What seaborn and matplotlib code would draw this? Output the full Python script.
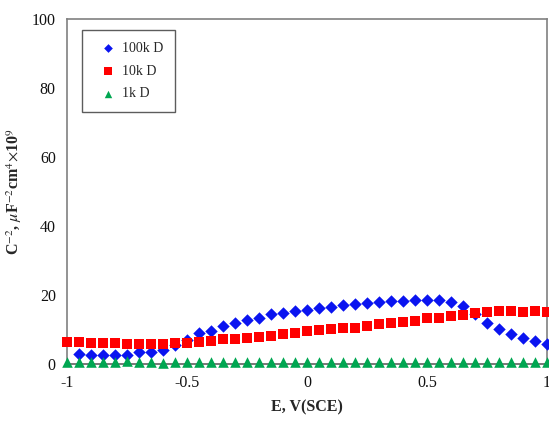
import numpy as np
import pandas as pd
import matplotlib
matplotlib.use("Agg")
import matplotlib.pyplot as plt
import seaborn as sns

# potentials E, V(SCE)
e_all = [-1.0, -0.95, -0.9, -0.85, -0.8, -0.75, -0.7, -0.65, -0.6, -0.55,
         -0.5, -0.45, -0.4, -0.35, -0.3, -0.25, -0.2, -0.15, -0.1, -0.05,
         0.0, 0.05, 0.1, 0.15, 0.2, 0.25, 0.3, 0.35, 0.4, 0.45,
         0.5, 0.55, 0.6, 0.65, 0.7, 0.75, 0.8, 0.85, 0.9, 0.95, 1.0]

# 100kD starts one step later
c_100k = [2.9, 2.6, 2.6, 2.6, 2.6, 3.6, 3.6, 4.1, 5.5,
          7.0, 8.9, 9.7, 11.0, 12.0, 12.8, 13.2, 14.4, 14.9, 15.4,
          15.7, 16.1, 16.6, 17.1, 17.4, 17.6, 17.9, 18.3, 18.3, 18.6,
          18.6, 18.6, 17.9, 16.8, 14.6, 12.0, 10.0, 8.7, 7.6, 6.8, 5.9]
c_10k = [6.3, 6.3, 6.2, 6.2, 6.0, 5.7, 5.8, 5.7, 5.7, 6.2,
         6.0, 6.5, 6.7, 7.2, 7.2, 7.6, 7.9, 8.2, 8.7, 8.9,
         9.6, 9.9, 10.0, 10.3, 10.5, 11.0, 11.5, 11.8, 12.3, 12.6,
         13.2, 13.2, 13.9, 14.2, 14.7, 15.0, 15.4, 15.4, 15.2, 15.5, 15.0]
c_1k = [0.7, 0.5, 0.6, 0.5, 0.6, 0.8, 0.6, 0.5, 0.4, 0.6,
        0.6, 0.5, 0.6, 0.6, 0.5, 0.6, 0.6, 0.6, 0.6, 0.5,
        0.6, 0.6, 0.5, 0.6, 0.6, 0.5, 0.6, 0.6, 0.5, 0.6,
        0.6, 0.5, 0.6, 0.6, 0.5, 0.6, 0.5, 0.5, 0.6, 0.5, 0.7]

series = [
    ("100k D", e_all[1:], c_100k, "D", 40, "#0a14f0"),
    ("10k D", e_all, c_10k, "s", 52, "#ff0000"),
    ("1k D", e_all, c_1k, "^", 58, "#00a651"),
]

sns.set_theme(style="white")
plt.rcParams["font.family"] = ["Liberation Serif", "DejaVu Serif"]
plt.rcParams["mathtext.fontset"] = "stix"

fig = plt.figure(figsize=(5.49, 4.23), dpi=100)
ax = fig.add_axes([0.122, 0.1395, 0.8745, 0.8155])

for name, x, y, mk, size, col in series:
    df = pd.DataFrame({"E": x, "C": y})
    sns.scatterplot(data=df, x="E", y="C", marker=mk, s=size, color=col,
                    linewidth=0, label=name, ax=ax, clip_on=False, zorder=3)

ax.set_xlim(-1, 1)
ax.set_ylim(0, 100)
ax.set_xticks([-1, -0.5, 0, 0.5, 1])
ax.set_xticklabels(["-1", "-0.5", "0", "0.5", "1"])
ax.set_yticks([0, 20, 40, 60, 80, 100])
ax.tick_params(axis="both", length=0, labelsize=11.5, colors="#111111", pad=8)

for sp in ax.spines.values():
    sp.set_color("#808080")
    sp.set_linewidth(1.2)
ax.spines["bottom"].set_color("#606060")

ax.set_xlabel("E, V(SCE)", fontsize=11.5, fontweight="bold", labelpad=6)
ax.set_ylabel(r"C$^{-2}$, $\mu$F$^{-2}$cm$^{4}$$\times$10$^{9}$",
              fontsize=11.5, fontweight="bold", labelpad=6)

leg = ax.legend(loc="upper left", bbox_to_anchor=(0.031, 0.968), fontsize=10,
                frameon=True, fancybox=False, handletextpad=0.05,
                markerscale=0.7, labelspacing=0.7, borderpad=0.85,
                handlelength=2.0, borderaxespad=0)
leg.get_frame().set_edgecolor("#333333")
leg.get_frame().set_linewidth(1.0)

fig.savefig("out.png", dpi=100)
